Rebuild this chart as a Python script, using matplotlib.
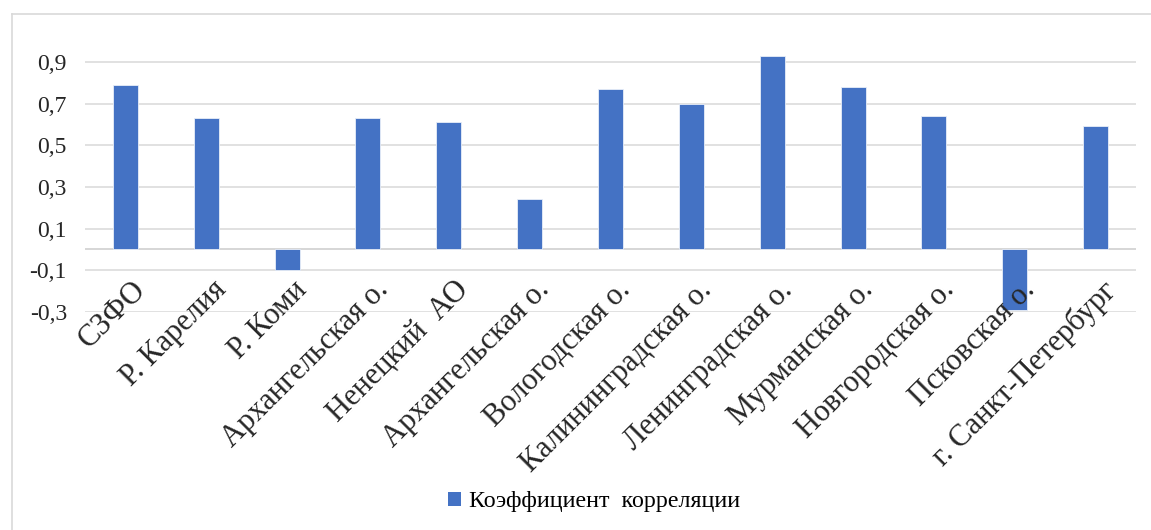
import matplotlib
matplotlib.use("Agg")
import matplotlib.pyplot as plt
from matplotlib.patches import Patch
from matplotlib.lines import Line2D

categories = ["СЗФО", "Р. Карелия", "Р. Коми", "Архангельская о.", "Ненецкий  АО",
              "Архангельская о.", "Вологодская о.", "Калининградская о.", "Ленинградская о.",
              "Мурманская о.", "Новгородская о.", "Псковская о.", "г. Санкт-Петербург"]
values = [0.79, 0.63, -0.10, 0.63, 0.61, 0.24, 0.77, 0.70, 0.93, 0.78, 0.64, -0.29, 0.59]
yticks = [-0.3, -0.1, 0.1, 0.3, 0.5, 0.7, 0.9]
ytick_labels = ["-0,3", "-0,1", "0,1", "0,3", "0,5", "0,7", "0,9"]
series_name = "Коэффициент  корреляции"

W, H = 1151, 530
fig = plt.figure(figsize=(W / 100, H / 100), dpi=100)
fig.patch.set_facecolor("white")

ax_l, ax_r = 85 / W, 1136 / W
ax_top_px, ax_bot_px = 41, 312
ax = fig.add_axes([ax_l, (H - ax_bot_px) / H, ax_r - ax_l, (ax_bot_px - ax_top_px) / H])

x = list(range(len(categories)))
ax.bar(x, values, width=0.31, color="#4472C4", edgecolor="#e8eef8", linewidth=0.6, zorder=3)
ax.set_xlim(-0.5, len(categories) - 0.5)
ax.set_ylim(-0.3, 1.0)

for v in yticks:
    ax.axhline(v, color="#d9d9d9", lw=1.1, zorder=1)
ax.axhline(0, color="#d0d0d0", lw=1.2, zorder=2)

ax.set_yticks(yticks)
ax.set_yticklabels(ytick_labels, fontfamily="Liberation Serif", fontsize=17, color="#262626")
ax.tick_params(axis="y", length=0, pad=13)
ax.set_xticks([])
for s in ax.spines.values():
    s.set_visible(False)

for i, lab in enumerate(categories):
    ax.text(i + 0.07, -0.125, lab, rotation=45, rotation_mode="anchor", ha="right", va="top",
            fontfamily="Liberation Serif", fontsize=22, color="#262626", zorder=4)

# outer chart frame
fig.add_artist(Line2D([11.5 / W, 1.0], [1 - 14 / H, 1 - 14 / H], color="#d9d9d9", lw=1.2))
fig.add_artist(Line2D([11.5 / W, 11.5 / W], [1 - 14 / H, 0], color="#d9d9d9", lw=1.2))

handles = [Patch(facecolor="#4472C4", edgecolor="none", label=series_name)]
fig.legend(handles=handles, loc="center", bbox_to_anchor=((450 + 738) / 2 / W, 1 - 502 / H),
           frameon=False, handlelength=0.55, handleheight=0.55, handletextpad=0.35,
           prop={"family": "Liberation Serif", "size": 17.3})

fig.savefig("out.png", dpi=100)
